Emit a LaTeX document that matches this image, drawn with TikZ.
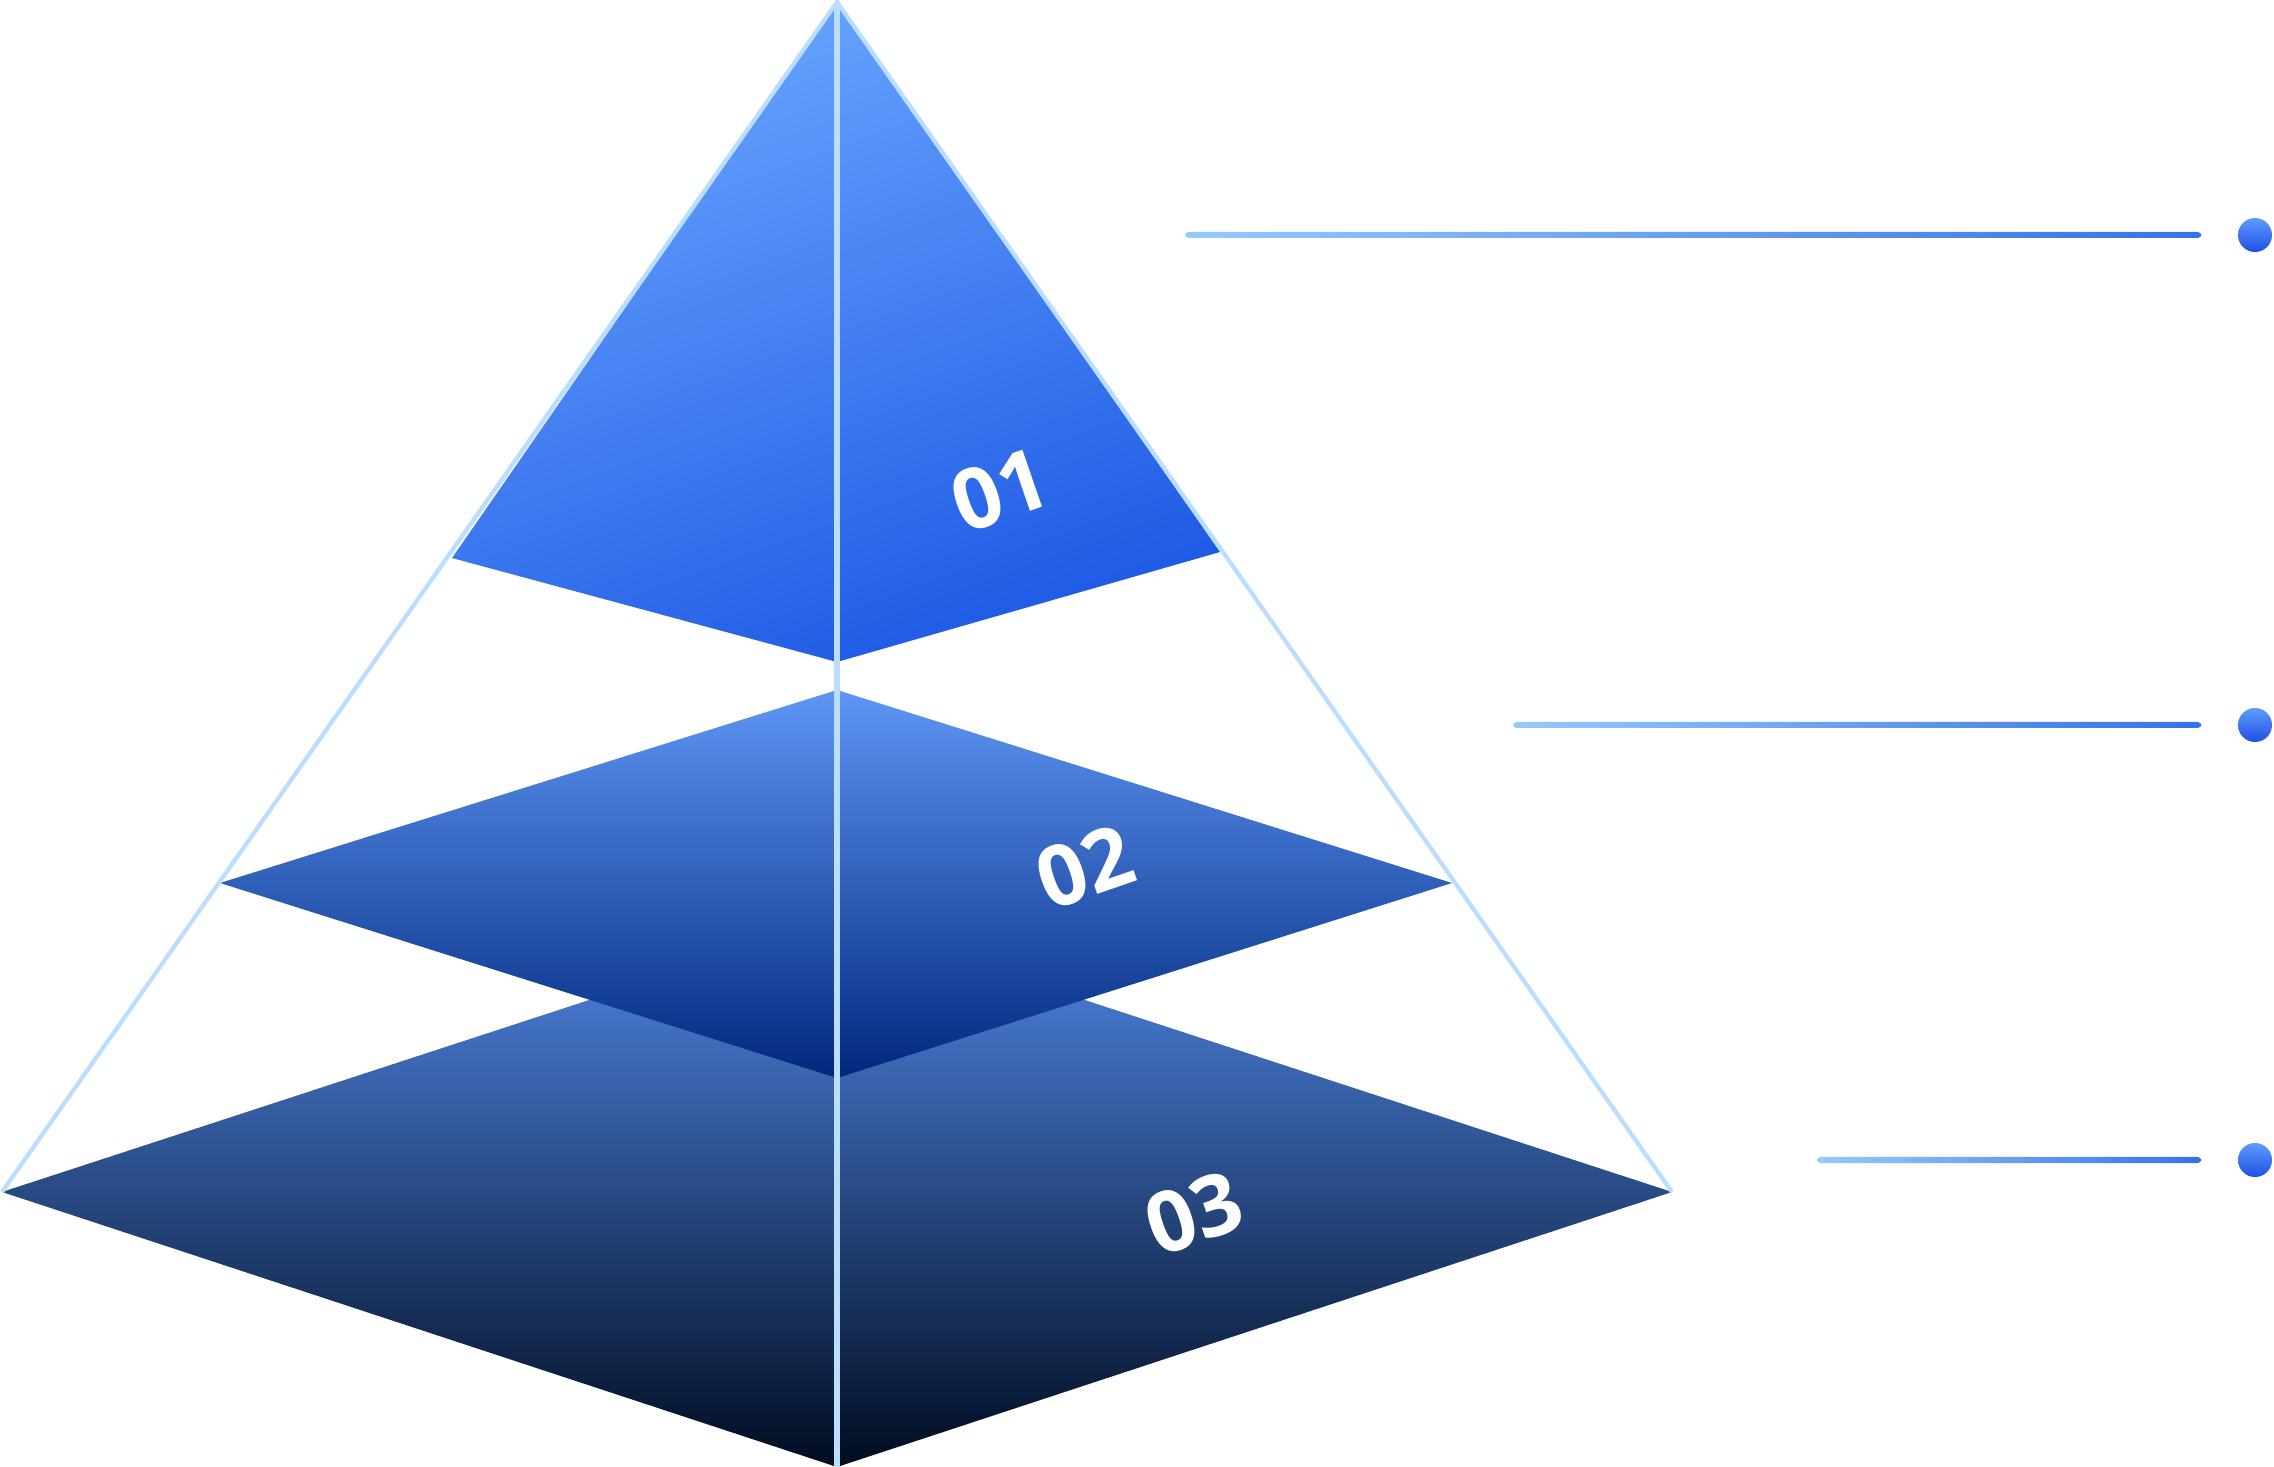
\documentclass[tikz,border=0pt]{standalone}
\usepackage{fontspec}
\setmainfont{Open Sans}
\usetikzlibrary{positioning}
\definecolor{edge}{HTML}{BBDDFF}
\definecolor{lineA}{HTML}{94CBF8}
\definecolor{lineB}{HTML}{3A70E8}
\begin{document}
\begin{tikzpicture}[x=0.01cm, y=-0.01cm,
    num/.style = {text=white, font=\bfseries\fontsize{24}{24}\selectfont, rotate=19, inner sep=0pt},
    dot/.style = {circle, minimum size=0.34cm, inner sep=0pt, top color={rgb,255:red,95;green,155;blue,255}, bottom color={rgb,255:red,30;green,80;blue,225}}]
    \useasboundingbox (0,0) rectangle (2274,1467);
    % bottom layer
    \shade[top color={rgb,255:red,80;green,135;blue,230}, bottom color={rgb,255:red,0;green,12;blue,32}]
        (2,1192) -- (837,919) -- (1672,1192) -- (837,1467) -- cycle;
    % middle layer
    \shade[top color={rgb,255:red,95;green,150;blue,245}, bottom color={rgb,255:red,0;green,40;blue,125}]
        (220,883) -- (837,690) -- (1452,883) -- (837,1078) -- cycle;
    % top layer
    \shade[top color={rgb,255:red,105;green,165;blue,255}, bottom color={rgb,255:red,30;green,90;blue,228}, shading angle=20]
        (837,2) -- (1220,552) -- (837,662) -- (452,558) -- cycle;
    % outline
    \draw[edge, line width=1.2pt] (2,1192) -- (837,2) -- (1672,1192);
    \draw[edge, line width=1.6pt] (837,2) -- (837,1467);
    % labels
    \node[num] (n1) at (1000,490) {01};
    \node[num] (n2) at (1085,867) {02};
    \node[num] (n3) at (1194,1213) {03};
    % markers
    \node[dot] (d1) at (2255,235) {};
    \node[dot] (d2) at (2255,725) {};
    \node[dot] (d3) at (2255,1160) {};
    \coordinate (s1) at (1185,235);
    \coordinate (s2) at (1513,725);
    \coordinate (s3) at (1817,1160);
    \foreach \i in {1,2,3}
        \shade[left color=lineA, right color=lineB, rounded corners=1pt]
            ([yshift=-0.03cm] s\i) rectangle ([xshift=-0.36cm, yshift=0.03cm] d\i.west);
\end{tikzpicture}
\end{document}
